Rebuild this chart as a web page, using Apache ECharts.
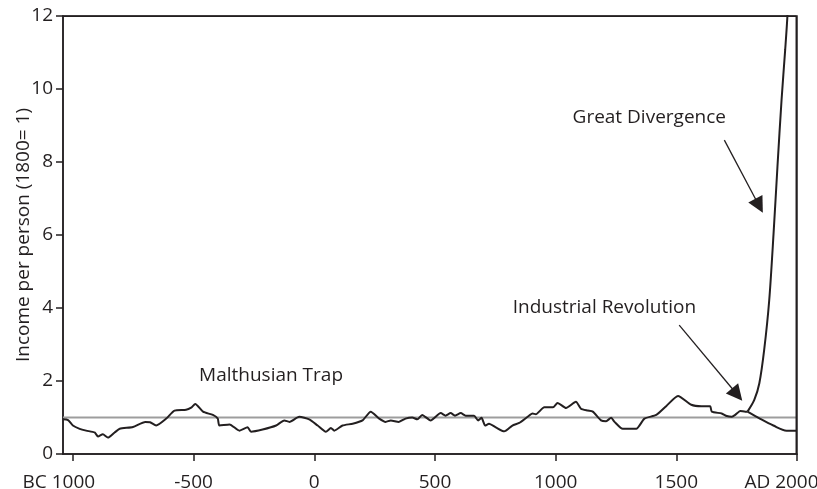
<!DOCTYPE html>
<html>
<head>
<meta charset="utf-8">
<script src="https://cdn.jsdelivr.net/npm/echarts@6/dist/echarts.min.js"></script>
<style>
  html, body { margin: 0; padding: 0; background: #fff; }
  #chart { width: 817px; height: 489px; }
</style>
</head>
<body>
<div id="chart"></div>
<script>
// years and income per person (1800 = 1)
const years = [
  -1041, -1020, -1000, -972, -945, -910, -896, -876, -855, -827, -806, -751,
  -700, -680, -655, -613, -579, -531, -510, -493, -461, -420, -400, -393,
  -351, -310, -276, -262, -214, -158, -124, -103, -62, -21, 14, 48, 69, 83,
  117, 159, 200, 234, 269, 296, 317, 350, 378, 406, 427, 447, 482, 524, 544,
  565, 583, 607, 627, 662, 679, 693, 708, 724, 752, 787, 821, 849, 884, 904,
  918, 953, 989, 1008, 1043, 1084, 1105, 1133, 1154, 1188, 1209, 1230, 1244,
  1278, 1334, 1368, 1417, 1458, 1507, 1562, 1604, 1640, 1647, 1688, 1709,
  1730, 1744, 1765, 1786, 1795
];
const income = [
  0.95, 0.93, 0.78, 0.69, 0.64, 0.59, 0.48, 0.54, 0.45, 0.59, 0.69, 0.74,
  0.88, 0.87, 0.78, 0.97, 1.19, 1.21, 1.27, 1.37, 1.16, 1.07, 0.97, 0.78,
  0.81, 0.64, 0.73, 0.61, 0.67, 0.78, 0.92, 0.88, 1.02, 0.95, 0.78, 0.61, 0.71, 0.64,
  0.78, 0.83, 0.92, 1.16, 0.97, 0.88, 0.92, 0.88, 0.97, 1.0, 0.95, 1.07, 0.92, 1.12, 1.05,
  1.12, 1.05, 1.12, 1.05, 1.05, 0.92, 0.99, 0.78, 0.83, 0.73, 0.62, 0.78, 0.85, 1.02, 1.11,
  1.09, 1.28, 1.28, 1.40, 1.26, 1.43, 1.24, 1.19, 1.16, 0.92, 0.90, 0.99, 0.88,
  0.69, 0.69, 0.97, 1.07, 1.31, 1.59, 1.35, 1.31, 1.31, 1.16, 1.11, 1.04,
  1.02, 1.07, 1.18, 1.16, 1.16
];
// after 1800 the path splits
const divergeYears = [1795, 1823, 1844, 1864, 1885, 1903, 1919, 1936, 1951, 1960, 1970];
const divergeIncome = [1.16, 1.48, 1.94, 2.85, 4.22, 6.05, 7.87, 9.7, 11.07, 11.97, 13.5];
const stayYears = [1795, 1846, 1902, 1957, 2000];
const stayIncome = [1.16, 0.97, 0.78, 0.64, 0.64];

const xTicks = [-1000, -500, 0, 500, 1000, 1500, 2000];
const yTicks = [0, 2, 4, 6, 8, 10, 12];
const xMin = -1041;
const xMax = 2000;
const yMax = 12;

const ink = "#231f20";
const font = "Open Sans";

const zip = (xs, ys) => xs.map((x, i) => [x, ys[i]]);

const chart = echarts.init(document.getElementById("chart"));

const option = {
  animation: false,
  textStyle: { fontFamily: font, color: ink },
  grid: {
    left: 63,
    right: 20,
    top: 16,
    bottom: 35,
    outerBoundsMode: "none",
    containLabel: false,
    show: true,
    borderColor: ink,
    borderWidth: 1.5,
  },
  xAxis: {
    type: "value",
    min: xMin,
    max: xMax,
    splitLine: { show: false },
    axisLine: { lineStyle: { color: ink, width: 1.5 } },
    axisTick: {
      customValues: xTicks,
      length: 7,
      lineStyle: { color: ink, width: 1.5 },
    },
    axisLabel: {
      customValues: xTicks,
      margin: 19,
      fontSize: 19,
      fontFamily: font,
      color: ink,
      formatter: (v) => {
        if (v === -1000) return "BC 1000{p| }";
        if (v === 2000) return "AD 2000{q| }";
        return String(v);
      },
      rich: {
        p: { width: 28, fontSize: 19 },
        q: { width: 31, fontSize: 19 },
      },
    },
  },
  yAxis: {
    type: "value",
    min: 0,
    max: yMax,
    interval: 2,
    name: "Income per person (1800= 1)",
    nameLocation: "middle",
    nameGap: 30,
    nameMoveOverlap: false,
    nameTextStyle: { fontSize: 19, fontFamily: font, color: ink },
    splitLine: { show: false },
    axisLine: { show: true, onZero: false, lineStyle: { color: ink, width: 1.5 } },
    axisTick: { show: true, length: 7, lineStyle: { color: ink, width: 1.5 } },
    axisLabel: {
      margin: 10,
      fontSize: 19,
      fontFamily: font,
      color: ink,
      formatter: (v) => (yTicks.includes(v) ? String(v) : ""),
    },
  },
  series: [
    {
      // top and right sides of the frame, pulled a hair inside the grid
      type: "line",
      data: [[xMin, yMax - 0.01], [xMax - 3, yMax - 0.01], [xMax - 3, 0]],
      symbol: "none",
      silent: true,
      clip: false,
      z: 4,
      lineStyle: { color: ink, width: 1.5 },
    },
    {
      // reference level 1800 = 1
      type: "line",
      data: [[xMin, 1], [xMax, 1]],
      symbol: "none",
      silent: true,
      z: 1,
      lineStyle: { color: "#9d9d9d", width: 2 },
    },
    {
      type: "line",
      data: zip(years, income),
      symbol: "none",
      smooth: 0.2,
      z: 3,
      lineStyle: { color: ink, width: 2 },
      markPoint: {
        symbol: "circle",
        symbolSize: 0,
        silent: true,
        label: {
          show: true,
          position: "inside",
          fontSize: 19,
          fontFamily: font,
          color: ink,
          formatter: (p) => p.name,
        },
        data: [
          { name: "Malthusian Trap", coord: [-179, 2.16] },
          { name: "Industrial Revolution", coord: [1202, 4.0] },
          { name: "Great Divergence", coord: [1388, 9.23] },
        ],
      },
      markLine: {
        silent: true,
        symbol: ["none", "triangle"],
        symbolSize: 16,
        label: { show: false },
        lineStyle: { color: ink, width: 1.3, type: "solid" },
        itemStyle: { color: ink },
        data: [
          [{ coord: [1512, 3.53] }, { coord: [1752, 1.63] }],
          [{ coord: [1699, 8.6] }, { coord: [1843, 6.8] }],
        ],
      },
    },
    {
      type: "line",
      data: zip(divergeYears, divergeIncome),
      symbol: "none",
      smooth: 0.3,
      z: 3,
      lineStyle: { color: ink, width: 2 },
    },
    {
      type: "line",
      data: zip(stayYears, stayIncome),
      symbol: "none",
      smooth: 0.3,
      z: 3,
      lineStyle: { color: ink, width: 2 },
    },
  ],
};

chart.setOption(option);
</script>
</body>
</html>
